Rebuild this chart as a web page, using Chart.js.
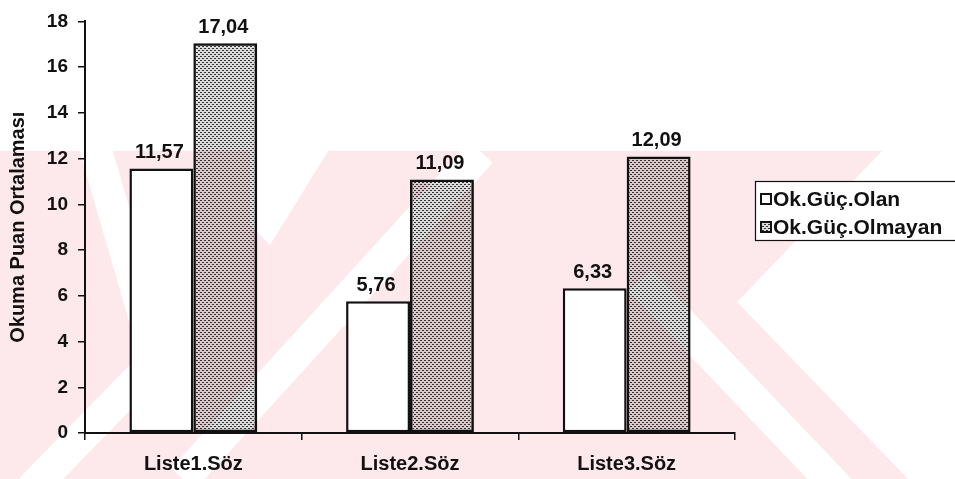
<!DOCTYPE html>
<html>
<head>
<meta charset="utf-8">
<script src="https://cdn.jsdelivr.net/npm/chart.js@4.4.1/dist/chart.umd.min.js"></script>
<style>
  html, body { margin: 0; padding: 0; background: #ffffff; }
  #wrap { width: 955px; height: 479px; position: relative; }
</style>
</head>
<body>
<div id="wrap"><canvas id="chart" width="955" height="479"></canvas></div>
<script>
// Okuma puan ortalamaları: okuma güçlüğü olan / olmayan öğrenciler, üç liste.
var categories = ["Liste1.Söz", "Liste2.Söz", "Liste3.Söz"];
var seriesNames = ["Ok.Güç.Olan", "Ok.Güç.Olmayan"];
var olanValues = [11.57, 5.76, 6.33];
var olmayanValues = [17.04, 11.09, 12.09];
var yTicks = [0, 2, 4, 6, 8, 10, 12, 14, 16, 18];
var yTitle = "Okuma Puan Ortalaması";

var FONT = "'Liberation Sans', Arial, sans-serif";
var INK = "#111111";
var PINK = "#fde8ec";

// noktalı (taramalı) dolgu deseni, arka planı yarı şeffaf
function dotPattern() {
  var c = document.createElement("canvas");
  c.width = 4;
  c.height = 4;
  var g = c.getContext("2d");
  g.fillStyle = "rgba(0,0,0,0.14)";
  g.fillRect(0, 0, 4, 4);
  g.fillStyle = "#333333";
  g.fillRect(0, 0, 2, 1);
  g.fillRect(2, 2, 2, 1);
  return g.createPattern(c, "repeat");
}
var DOTS = dotPattern();

function tr(v) {
  return v.toFixed(2).replace(".", ",");
}

// arka plandaki soluk pembe filigran (sadece süs)
var watermark = {
  id: "watermark",
  beforeDraw: function (chart) {
    var ctx = chart.ctx;
    ctx.save();
    ctx.beginPath();
    ctx.rect(0, 151, 955, 328);
    ctx.clip();
    ctx.fillStyle = PINK;
    ctx.fillRect(0, 151, 955, 328);
    ctx.fillStyle = "#ffffff";
    ctx.strokeStyle = "#ffffff";
    ctx.lineWidth = 32;
    [
      [93, 140, 157, 360], [157, 360, 30, 490],
      [183, 479, 481, 152],
      [640, 280, 840, 490]
    ].forEach(function (l) {
      ctx.beginPath();
      ctx.moveTo(l[0], l[1]);
      ctx.lineTo(l[2], l[3]);
      ctx.stroke();
    });
    // V biçimli beyaz çentik
    ctx.beginPath();
    ctx.moveTo(250, 140);
    ctx.lineTo(335, 140);
    ctx.lineTo(270, 245);
    ctx.lineTo(250, 225);
    ctx.closePath();
    ctx.fill();
    // sağdaki "<" kama
    ctx.beginPath();
    ctx.moveTo(737, 302);
    ctx.lineTo(882, 151);
    ctx.lineTo(955, 151);
    ctx.lineTo(955, 479);
    ctx.lineTo(908, 479);
    ctx.closePath();
    ctx.fill();
    ctx.restore();
  }
};

// çubukların üstündeki değer etiketleri
var valueLabels = {
  id: "valueLabels",
  afterDatasetsDraw: function (chart) {
    var ctx = chart.ctx;
    ctx.save();
    ctx.font = "bold 20px " + FONT;
    ctx.fillStyle = INK;
    ctx.textAlign = "center";
    ctx.textBaseline = "bottom";
    chart.data.datasets.forEach(function (ds, di) {
      chart.getDatasetMeta(di).data.forEach(function (bar, i) {
        ctx.fillText(tr(ds.data[i]), bar.x - 2, bar.y - 6);
      });
    });
    ctx.restore();
  }
};

// çerçeveli gösterge (sağda, kenardan taşıyor)
var boxLegend = {
  id: "boxLegend",
  afterDraw: function (chart) {
    var ctx = chart.ctx;
    var x0 = 755, y0 = 181, h = 59;
    ctx.save();
    ctx.fillStyle = "#ffffff";
    ctx.fillRect(x0, y0, 210, h);
    ctx.strokeStyle = INK;
    ctx.lineWidth = 1.2;
    ctx.strokeRect(x0 + 0.5, y0 + 0.5, 210, h);
    ctx.font = "bold 21px " + FONT;
    ctx.textBaseline = "middle";
    chart.data.datasets.forEach(function (ds, i) {
      var cy = 199 + i * 28;
      ctx.fillStyle = "#ffffff";
      ctx.fillRect(761, cy - 5, 10, 10);
      ctx.fillStyle = ds.backgroundColor;
      ctx.fillRect(761, cy - 5, 10, 10);
      ctx.strokeStyle = INK;
      ctx.lineWidth = 2;
      ctx.strokeRect(761, cy - 5, 10, 10);
      ctx.fillStyle = INK;
      ctx.fillText(ds.label, 773, cy + 1);
    });
    ctx.restore();
  }
};

new Chart(document.getElementById("chart"), {
  type: "bar",
  data: {
    labels: categories,
    datasets: [
      {
        label: seriesNames[0],
        data: olanValues,
        backgroundColor: "#ffffff",
        borderColor: INK,
        borderWidth: 2.5,
        borderSkipped: false,
        categoryPercentage: 0.59,
        barPercentage: 1.0
      },
      {
        label: seriesNames[1],
        data: olmayanValues,
        backgroundColor: DOTS,
        borderColor: INK,
        borderWidth: 2.5,
        borderSkipped: false,
        categoryPercentage: 0.59,
        barPercentage: 1.0
      }
    ]
  },
  options: {
    responsive: false,
    animation: false,
    devicePixelRatio: 1,
    layout: { padding: { top: 18, right: 220, bottom: 0, left: 0 } },
    scales: {
      x: {
        offset: true,
        grid: {
          offset: true,
          drawOnChartArea: false,
          drawTicks: true,
          tickLength: 7,
          color: INK,
          lineWidth: 1.5
        },
        border: { display: true, color: INK, width: 2 },
        ticks: {
          color: INK,
          padding: 12,
          font: { family: FONT, size: 20, weight: "bold" }
        },
        afterFit: function (scale) {
          scale.height = 46;
        }
      },
      y: {
        min: 0,
        max: 18,
        afterBuildTicks: function (scale) {
          scale.ticks = yTicks.map(function (v) {
            return { value: v };
          });
        },
        grid: {
          drawOnChartArea: false,
          drawTicks: true,
          tickLength: 7,
          color: INK,
          lineWidth: 1.5
        },
        border: { display: true, color: INK, width: 2 },
        ticks: {
          color: INK,
          padding: 10,
          font: { family: FONT, size: 19, weight: "bold" }
        },
        title: {
          display: true,
          text: yTitle,
          color: INK,
          padding: { top: 6, bottom: 0 },
          font: { family: FONT, size: 20, weight: "bold" }
        },
        afterFit: function (scale) {
          scale.width = 85;
        }
      }
    },
    plugins: {
      legend: { display: false },
      tooltip: { enabled: false }
    }
  },
  plugins: [watermark, valueLabels, boxLegend]
});
</script>
</body>
</html>
